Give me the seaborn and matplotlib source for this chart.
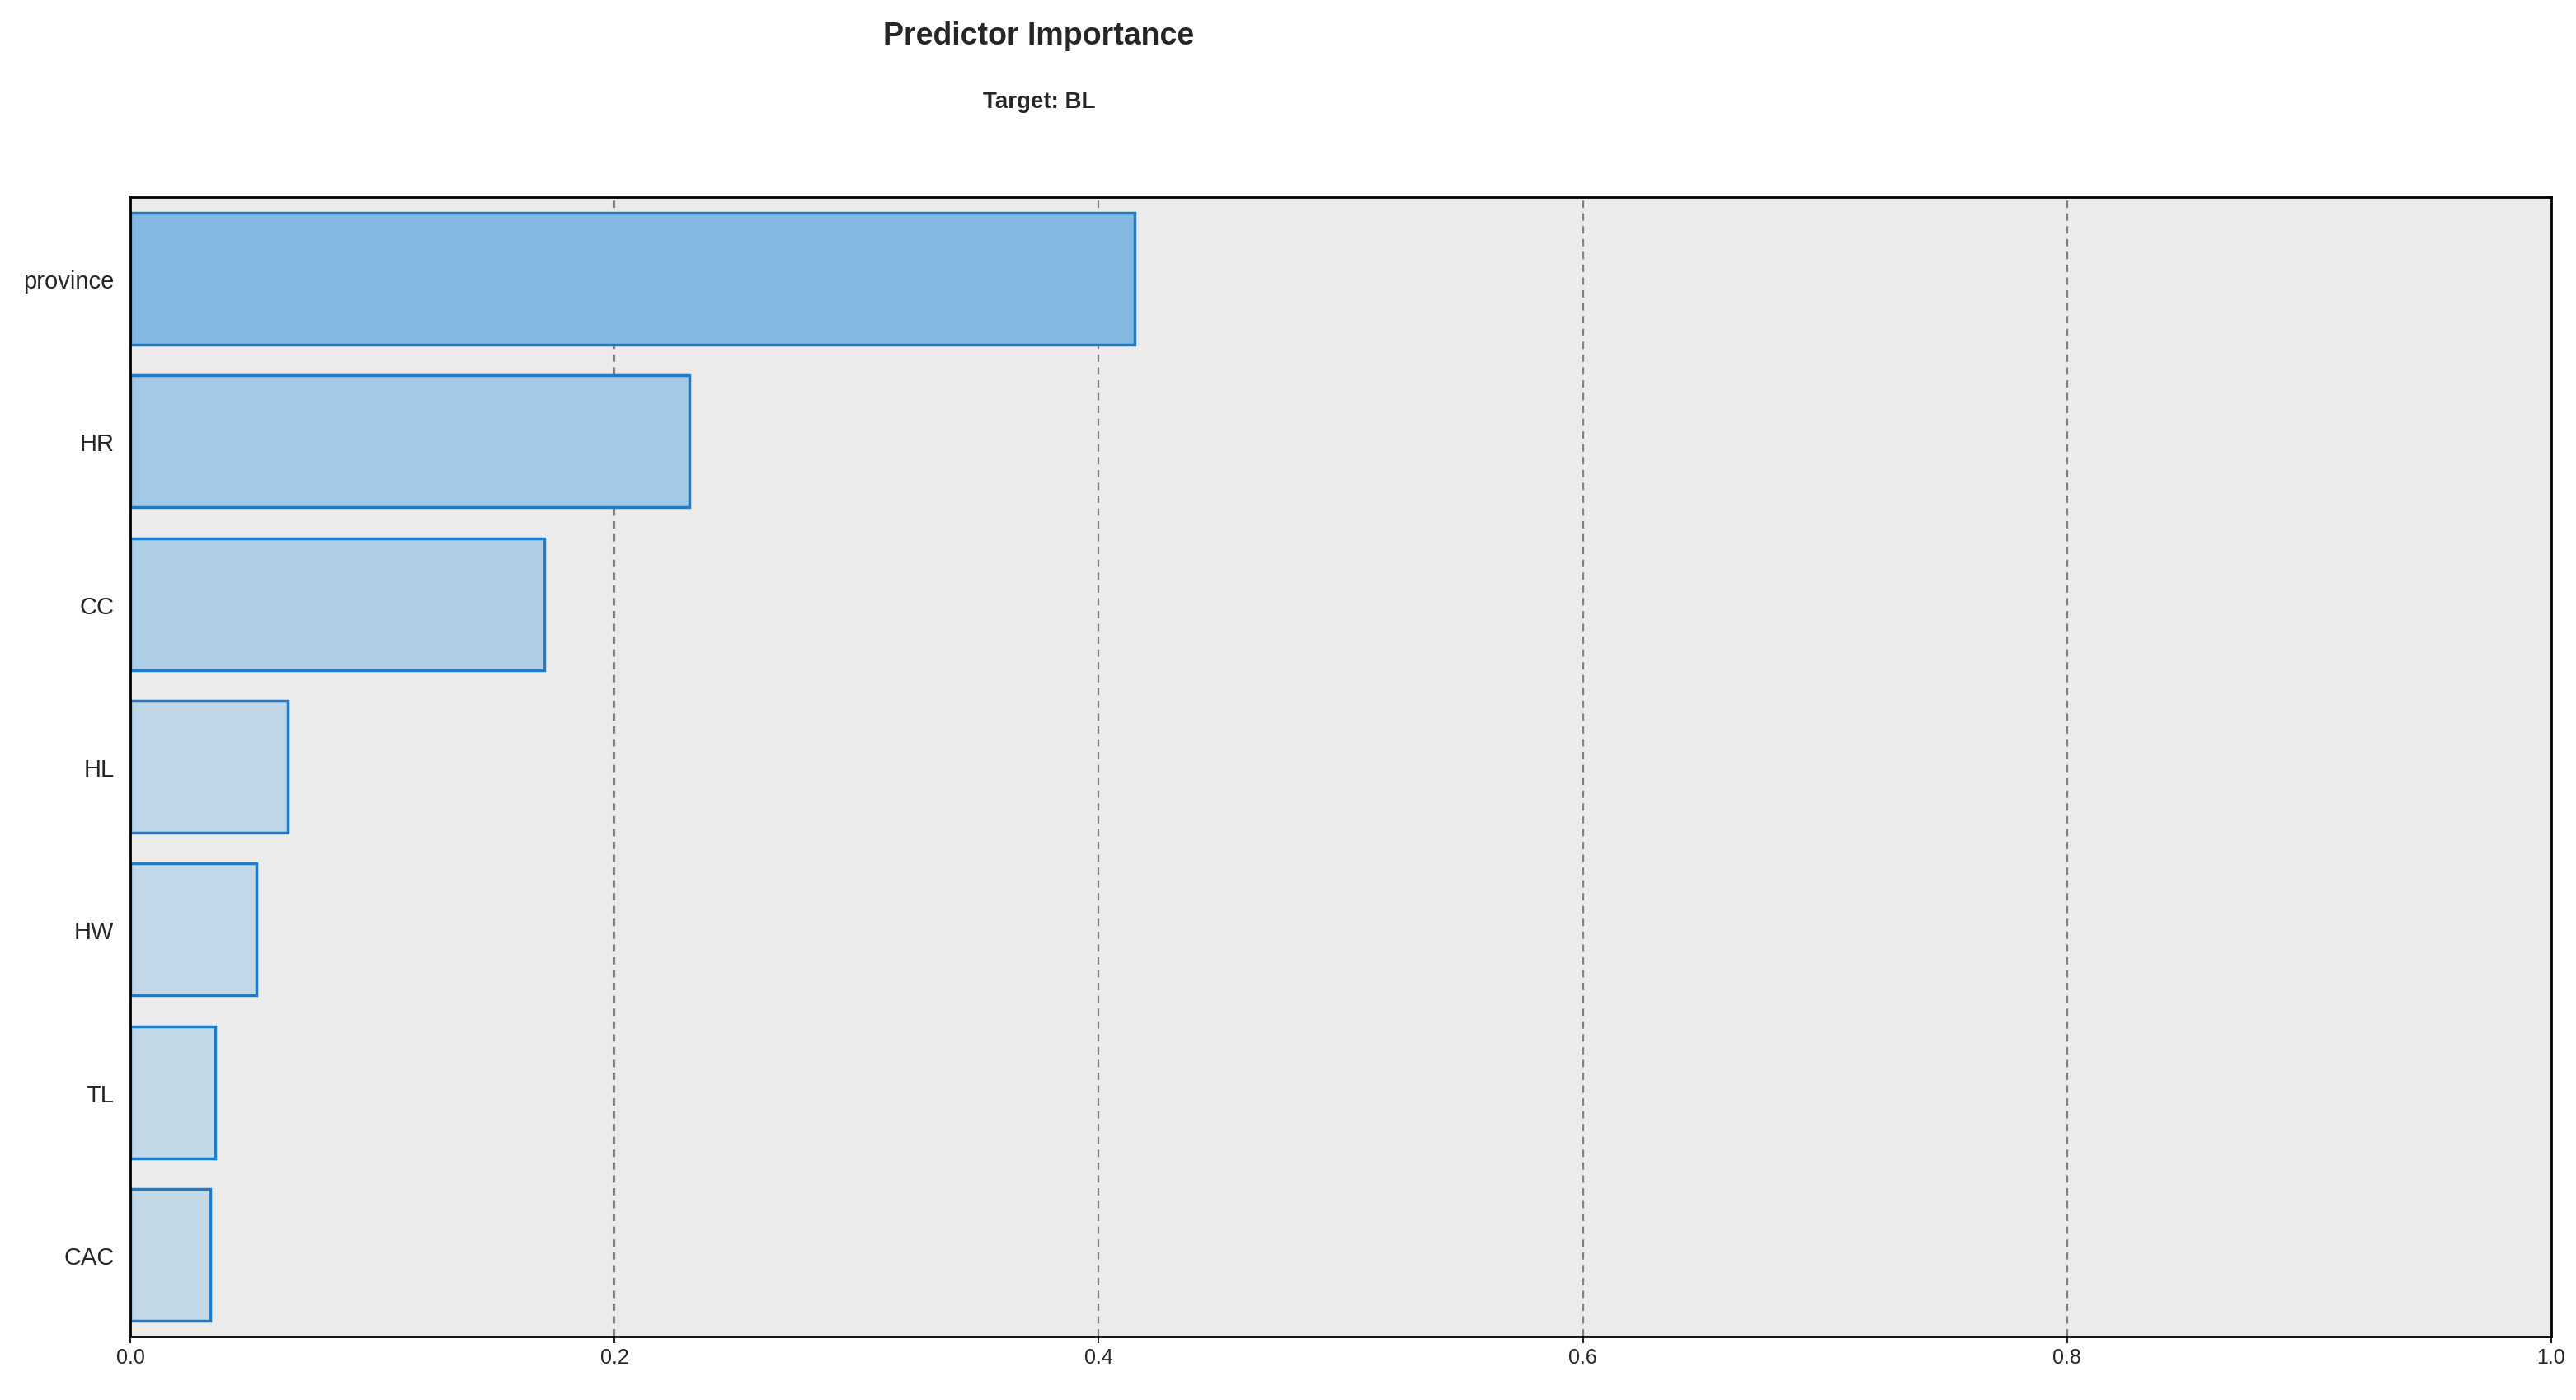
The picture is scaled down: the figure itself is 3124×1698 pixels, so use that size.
import matplotlib
matplotlib.use("Agg")
import matplotlib.pyplot as plt
import seaborn as sns
import pandas as pd

predictors = ["province", "HR", "CC", "HL", "HW", "TL", "CAC"]
importance = [0.415, 0.231, 0.171, 0.065, 0.052, 0.035, 0.033]
bar_colors = ["#83B9E0", "#A4C9E6", "#AECFE6", "#BED6E7", "#C2D8E8", "#C4D9E8", "#C4D9E8"]
x_ticks = [0.0, 0.2, 0.4, 0.6, 0.8, 1.0]

df = pd.DataFrame({"predictor": predictors, "importance": importance})

sns.set_style("white")
plt.rcParams["font.family"] = ["Liberation Sans", "DejaVu Sans"]

fig = plt.figure(figsize=(31.24, 16.99), dpi=100)
ax = fig.add_axes([158 / 3124, 1 - 1622 / 1699, (3094 - 158) / 3124, (1622 - 240) / 1699])
ax.set_facecolor("#EBEBEB")

sns.barplot(data=df, x="importance", y="predictor", hue="predictor",
            palette=bar_colors, legend=False, width=0.81,
            edgecolor="#1F7BC8", linewidth=2.5, saturation=1, ax=ax)

ax.set_xlim(0, 1)
ax.set_ylim(6.5, -0.5)
ax.set_xticks(x_ticks)
ax.set_xticklabels([f"{t:.1f}" for t in x_ticks])
for t in x_ticks[1:-1]:
    ax.axvline(t, color="#808080", linestyle=(0, (4, 3)), linewidth=1.6, zorder=0)
ax.set_axisbelow(True)
ax.set_xlabel("")
ax.set_ylabel("")
ax.tick_params(axis="x", labelsize=18, length=6, width=1.5, direction="out", bottom=True)
ax.tick_params(axis="y", labelsize=21, length=0, pad=14)
for s in ax.spines.values():
    s.set_color("black")
    s.set_linewidth(2)

fig.text(1260 / 3124, 1 - 44 / 1699, "Predictor Importance", ha="center", va="center",
         fontsize=27, fontweight="bold")
fig.text(1260 / 3124, 1 - 124 / 1699, "Target: BL", ha="center", va="center",
         fontsize=20, fontweight="bold")

fig.savefig("out.png", dpi=100, facecolor="white")
